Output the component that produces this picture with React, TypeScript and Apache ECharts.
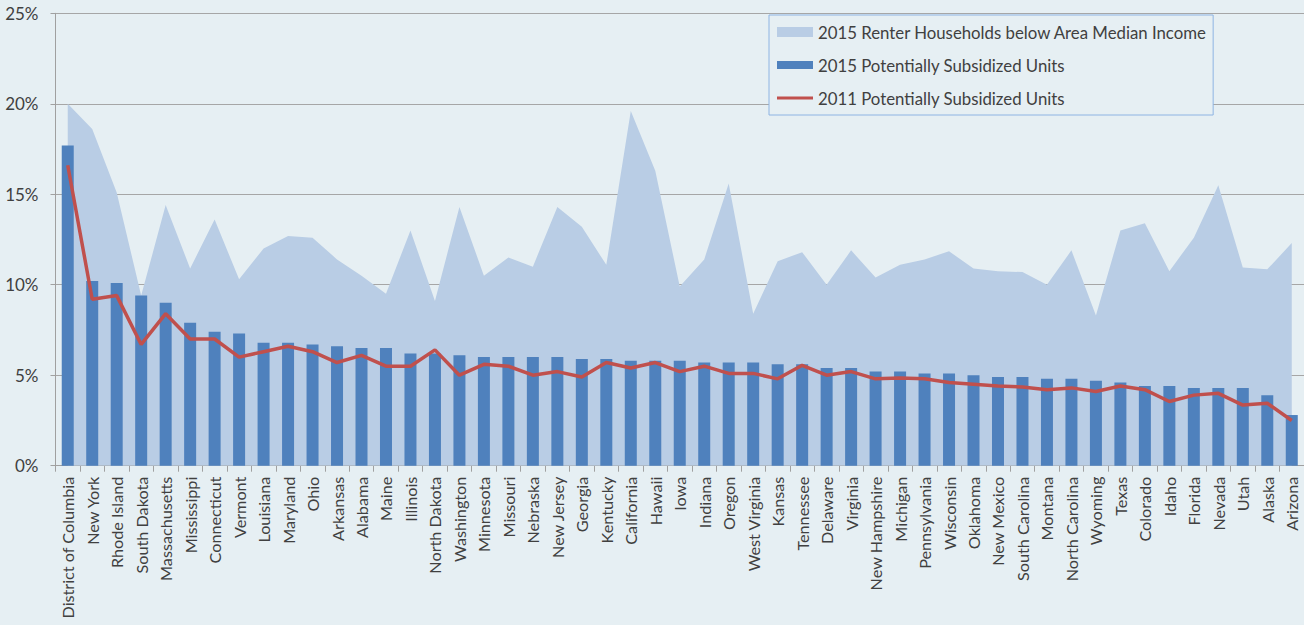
import React, { useEffect, useRef } from 'react';
import * as echarts from 'echarts';

const categories = [
  'District of Columbia', 'New York', 'Rhode Island', 'South Dakota', 'Massachusetts', 'Mississippi',
  'Connecticut', 'Vermont', 'Louisiana', 'Maryland', 'Ohio', 'Arkansas', 'Alabama', 'Maine', 'Illinois',
  'North Dakota', 'Washington', 'Minnesota', 'Missouri', 'Nebraska', 'New Jersey', 'Georgia', 'Kentucky',
  'California', 'Hawaii', 'Iowa', 'Indiana', 'Oregon', 'West Virginia', 'Kansas', 'Tennessee', 'Delaware',
  'Virginia', 'New Hampshire', 'Michigan', 'Pennsylvania', 'Wisconsin', 'Oklahoma', 'New Mexico',
  'South Carolina', 'Montana', 'North Carolina', 'Wyoming', 'Texas', 'Colorado', 'Idaho', 'Florida',
  'Nevada', 'Utah', 'Alaska', 'Arizona',
];

const renterBelowAMI2015 = [
  20.0, 18.6, 15.1, 9.4, 14.4, 10.9, 13.6, 10.3, 12.0, 12.7,
  12.6, 11.4, 10.5, 9.5, 13.0, 9.1, 14.3, 10.5, 11.5, 11.0,
  14.3, 13.2, 11.1, 19.6, 16.3, 9.9, 11.4, 15.6, 8.4, 11.3,
  11.8, 10.0, 11.9, 10.4, 11.1, 11.4, 11.85, 10.9, 10.75, 10.7,
  10.0, 11.9, 8.3, 13.0, 13.4, 10.75, 12.6, 15.5, 10.95, 10.85, 12.3,
];

const subsidized2015 = [
  17.7, 10.2, 10.1, 9.4, 9.0, 7.9, 7.4, 7.3, 6.8, 6.8,
  6.7, 6.6, 6.5, 6.5, 6.2, 6.2, 6.1, 6.0, 6.0, 6.0,
  6.0, 5.9, 5.9, 5.8, 5.8, 5.8, 5.7, 5.7, 5.7, 5.6,
  5.6, 5.4, 5.4, 5.2, 5.2, 5.1, 5.1, 5.0, 4.9, 4.9,
  4.8, 4.8, 4.7, 4.6, 4.4, 4.4, 4.3, 4.3, 4.3, 3.9, 2.8,
];

const subsidized2011 = [
  16.6, 9.2, 9.4, 6.7, 8.4, 7.0, 7.0, 6.0, 6.3, 6.6,
  6.3, 5.7, 6.1, 5.5, 5.5, 6.4, 5.0, 5.6, 5.5, 5.0,
  5.2, 4.9, 5.7, 5.4, 5.7, 5.2, 5.5, 5.1, 5.1, 4.8,
  5.55, 5.0, 5.2, 4.8, 4.85, 4.8, 4.6, 4.5, 4.4, 4.35,
  4.2, 4.3, 4.1, 4.4, 4.2, 3.55, 3.9, 4.0, 3.35, 3.45, 2.5,
];

const seriesNames = [
  '2015 Renter Households below Area Median Income',
  '2015 Potentially Subsidized Units',
  '2011 Potentially Subsidized Units',
];

export default function App() {
  const ref = useRef<HTMLDivElement>(null);
  useEffect(() => {
    const chart = echarts.init(ref.current!, null, { renderer: 'svg' });
    const font = 'Lato';
    chart.setOption({
      animation: false,
      backgroundColor: '#e6eff3',
      textStyle: { fontFamily: font },
      grid: { left: 55.5, right: 0, top: 13.3, bottom: 159.3, containLabel: false, outerBoundsMode: 'none' },
      legend: {
        orient: 'vertical',
        left: 769,
        top: 15,
        padding: [7, 6, 7, 8],
        itemGap: 13,
        itemWidth: 36,
        itemHeight: 10,
        borderColor: '#8eb4e3',
        borderWidth: 1,
        backgroundColor: '#e6eff3',
        selectedMode: false,
        symbolKeepAspect: true,
        textStyle: { fontSize: 16.8, color: '#404040', lineHeight: 20, fontFamily: font },
        data: [
          { name: seriesNames[0], icon: 'rect' },
          { name: seriesNames[1], icon: 'path://M0,1L36,1L36,9L0,9Z' },
          { name: seriesNames[2], icon: 'path://M0,0L36,0L36,3.2L0,3.2Z' },
        ],
      },
      xAxis: {
        type: 'category',
        data: categories,
        boundaryGap: true,
        axisLine: { show: true, lineStyle: { color: '#a0a0a0', width: 1 } },
        axisTick: { show: true, length: 6, interval: 0, alignWithLabel: false, lineStyle: { color: '#a0a0a0' } },
        axisLabel: { interval: 0, rotate: 90, margin: 11, fontSize: 16.2, color: '#404040', fontFamily: font },
        splitLine: { show: false },
      },
      yAxis: {
        type: 'value',
        min: 0,
        max: 25,
        interval: 5,
        axisLine: { show: true, lineStyle: { color: '#a0a0a0', width: 1 } },
        axisTick: { show: true, length: 5, lineStyle: { color: '#a0a0a0' } },
        axisLabel: { formatter: '{value}%', fontSize: 17, margin: 17, color: '#404040', fontFamily: font },
        splitLine: { show: true, lineStyle: { color: '#a6a6a6', width: 1 } },
      },
      series: [
        {
          name: seriesNames[0],
          type: 'line',
          data: renterBelowAMI2015,
          symbol: 'none',
          lineStyle: { width: 0, color: '#b9cde5' },
          itemStyle: { color: '#b9cde5' },
          areaStyle: { color: '#b9cde5', opacity: 1 },
          z: 1,
        },
        {
          name: seriesNames[1],
          type: 'bar',
          data: subsidized2015,
          barWidth: 12,
          itemStyle: { color: '#4f81bd' },
          z: 2,
        },
        {
          name: seriesNames[2],
          type: 'line',
          data: subsidized2011,
          symbol: 'none',
          lineStyle: { color: '#c0504d', width: 3.5 },
          itemStyle: { color: '#c0504d' },
          z: 3,
        },
      ],
    });
    return () => chart.dispose();
  }, []);
  return <div ref={ref} style={{ position: 'absolute', left: 0, top: 0, width: 1304, height: 625 }} />;
}
